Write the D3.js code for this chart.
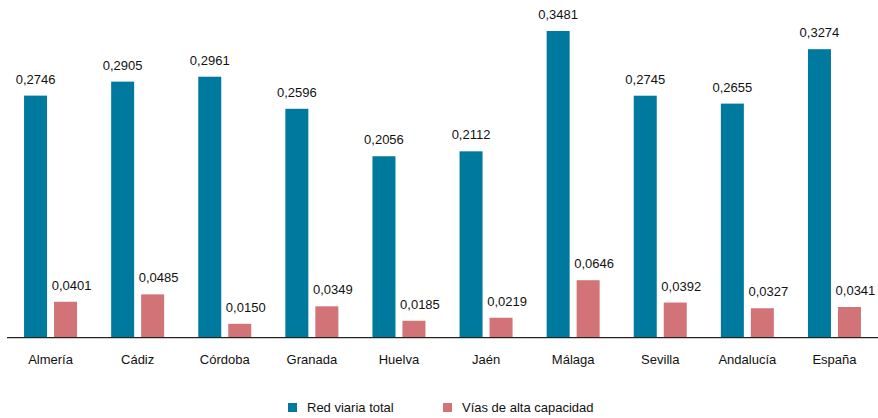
<!DOCTYPE html>
<html><head><meta charset="utf-8">
<script src="https://cdn.jsdelivr.net/npm/d3@7"></script>
<style>body{margin:0;background:#fff}svg{display:block;font-family:"Liberation Sans",Arial,Helvetica,sans-serif}</style>
</head><body><svg id="c" width="878" height="418"></svg>
<script>
const categories = ["Almería","Cádiz","Córdoba","Granada","Huelva","Jaén","Málaga","Sevilla","Andalucía","España"];
const redViaria = [0.2746,0.2905,0.2961,0.2596,0.2056,0.2112,0.3481,0.2745,0.2655,0.3274];
const altaCapacidad = [0.0401,0.0485,0.0150,0.0349,0.0185,0.0219,0.0646,0.0392,0.0327,0.0341];
const seriesNames = ["Red viaria total","Vías de alta capacidad"];
const colors = ["#00799E","#D27378"];

const svg = d3.select("#c");
const x = d3.scaleBand().domain(categories).range([7,878]);
const sub = d3.scaleBand().domain([0,1]).range([x.bandwidth()/2-26.5, x.bandwidth()/2+26.5]).paddingInner(0.233);
const y = d3.scaleLinear().domain([0,0.3481]).range([337,31]);
const fmt = v => d3.format(".4f")(v).replace(".",",");
const series = [redViaria, altaCapacidad];

series.forEach((vals,si)=>{
  const g = svg.append("g");
  g.selectAll("rect").data(categories).join("rect")
    .attr("x",(c)=>x(c)+sub(si)).attr("width",sub.bandwidth())
    .attr("y",(c,i)=>y(vals[i])).attr("height",(c,i)=>y(0)-y(vals[i]))
    .attr("fill",colors[si]);
  g.selectAll("text").data(categories).join("text")
    .attr("x",(c)=>x(c)+sub(si)+sub.bandwidth()/2+(si===1?6:0))
    .attr("y",(c,i)=>y(vals[i])-12)
    .attr("text-anchor","middle").attr("font-size",13).attr("fill","#111")
    .text((c,i)=>fmt(vals[i]));
});

// baseline
svg.append("line").attr("x1",7).attr("x2",878).attr("y1",338.5).attr("y2",338.5).attr("stroke","#ccc").attr("stroke-width",1);
svg.append("line").attr("x1",7).attr("x2",878).attr("y1",337.5).attr("y2",337.5).attr("stroke","#222").attr("stroke-width",1);

const xAxis = d3.axisBottom(x).tickSize(0).tickPadding(0);
const ax = svg.append("g").attr("transform","translate(0,337)").call(xAxis);
ax.select(".domain").remove();
ax.selectAll("text").attr("font-size",13).attr("fill","#111").attr("font-family","Liberation Sans, Arial, sans-serif").attr("dy",null).attr("y",27);

// legend
const legX = [288,443];
seriesNames.forEach((n,i)=>{
  svg.append("rect").attr("x",legX[i]).attr("y",403).attr("width",9).attr("height",9).attr("fill",colors[i]);
  svg.append("text").attr("x",legX[i]+19).attr("y",412).attr("font-size",13).attr("fill","#111").text(n);
});
</script></body></html>
